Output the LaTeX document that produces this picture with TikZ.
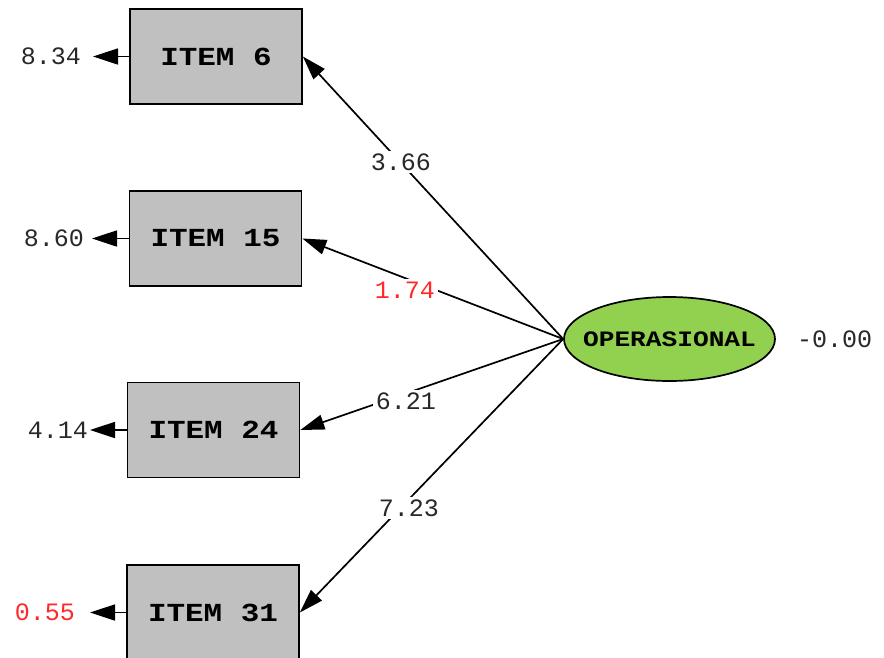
\documentclass[tikz,border=0pt]{standalone}
\usepackage{fontspec}
\setmonofont{Liberation Mono}
\newfontfamily\widemono[FakeStretch=1.19]{Liberation Mono}
\usetikzlibrary{arrows.meta,shapes.geometric}
\definecolor{boxgray}{RGB}{192,192,192}
\definecolor{latgreen}{RGB}{146,208,80}
\definecolor{numred}{RGB}{255,40,40}
\definecolor{numgray}{RGB}{40,40,40}
\begin{document}
\begin{tikzpicture}[x=1pt,y=-1pt,
  itembox/.style={draw=black,line width=1.7pt,fill=boxgray,minimum width=172pt,
    minimum height=95pt,inner sep=0pt,font=\widemono\bfseries\fontsize{26}{30}\selectfont},
  latent/.style={ellipse,draw=black,line width=1.7pt,fill=latgreen,minimum width=211pt,
    minimum height=84pt,inner sep=0pt},
  latname/.style={inner sep=0pt,font=\widemono\bfseries\fontsize{22}{26}\selectfont},
  num/.style={font=\ttfamily\fontsize{25}{28}\selectfont,text=numgray,inner sep=1pt},
  rednum/.style={num,text=numred},
  path/.style={line width=1.7pt,-{Triangle[length=24pt,width=15pt]}},
  errpath/.style={line width=1.7pt,-{Triangle[length=25pt,width=16pt]}},
  lab/.style={num,fill=white,inner sep=3pt}]
\useasboundingbox (0,0) rectangle (884,657);

% observed indicators
\node[itembox] (i6)  at (216,56.5)  {ITEM 6};
\node[itembox] (i15) at (215.5,238.5) {ITEM 15};
\node[itembox] (i24) at (213.5,430) {ITEM 24};
\node[itembox] (i31) at (213,612.5) {ITEM 31};

% latent factor
\node[latent] (op) at (669.5,339) {};
\node[latname] (opt) at (op.center) {OPERASIONAL};
\node[num,anchor=west] (opv) at (796,339) {-0.00};

% error variances
\coordinate (e6)  at (93,56.5);
\coordinate (e15) at (92,238.5);
\coordinate (e24) at (90,430);
\coordinate (e31) at (90,612.5);
\draw[errpath] (i6.west)  -- (e6);
\draw[errpath] (i15.west) -- (e15);
\draw[errpath] (i24.west) -- (e24);
\draw[errpath] (i31.west) -- (e31);
\node[num,anchor=east]    (v6)  at (82,56.5)  {8.34};
\node[num,anchor=east]    (v15) at (85,238.5) {8.60};
\node[num,anchor=east]    (v24) at (89,430)   {4.14};
\node[rednum,anchor=east] (v31) at (76,612.5) {0.55};

% loadings
\draw[path] (op.west) -- (i6.east);
\draw[path] (op.west) -- (i15.east);
\draw[path] (op.west) -- (i24.east);
\draw[path] (op.west) -- (i31.east);
\node[lab] (l6)  at (401,162) {3.66};
\node[lab,text=numred] (l15) at (405,290) {1.74};
\node[lab] (l24) at (406,401) {6.21};
\node[lab] (l31) at (409,508) {7.23};
\end{tikzpicture}
\end{document}
